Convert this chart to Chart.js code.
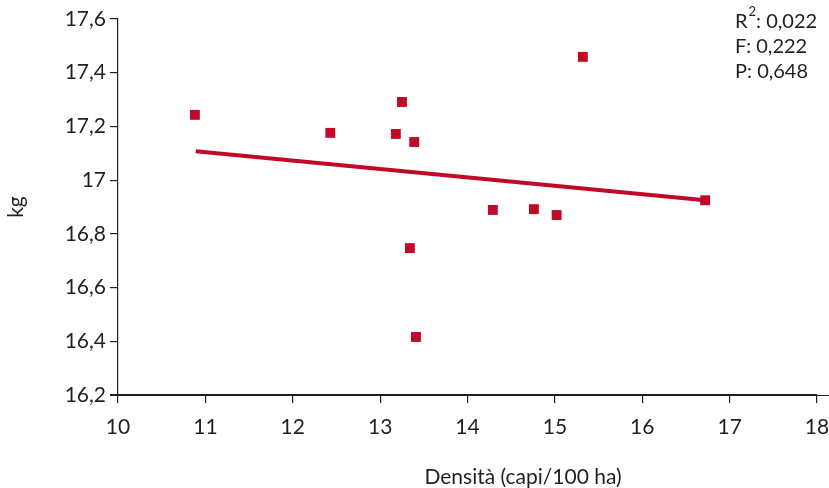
<!DOCTYPE html>
<html>
<head>
<meta charset="utf-8">
<script src="https://cdn.jsdelivr.net/npm/chart.js@4/dist/chart.umd.min.js"></script>
<style>
  html, body { margin: 0; padding: 0; background: #fff; }
  #wrap { width: 829px; height: 488px; }
</style>
</head>
<body>
<div id="wrap"><canvas id="myChart" width="829" height="488"></canvas></div>
<script>
// density (head/100 ha) vs weight (kg)
var densita = [10.88, 12.43, 13.25, 13.18, 13.39, 15.32, 14.29, 14.76, 15.02, 13.34, 13.41, 16.72];
var pesoKg = [17.243, 17.176, 17.291, 17.172, 17.142, 17.459, 16.889, 16.892, 16.870, 16.747, 16.416, 16.925];

// fitted line end points
var lineaX = [10.89, 16.72];
var lineaY = [17.108, 16.925];

var statLabels = ["R", "F: 0,222", "P: 0,648"];
var r2Value = ": 0,022";
var xTitle = "Densità (capi/100 ha)";

var rosso = "#c10a28";
var nero = "#231f20";
var fontName = "Lato, 'Open Sans', sans-serif";

var punti = [];
for (var i = 0; i < densita.length; i++) punti.push({ x: densita[i], y: pesoKg[i] });
var linea = [];
for (var j = 0; j < lineaX.length; j++) linea.push({ x: lineaX[j], y: lineaY[j] });

var statsPlugin = {
  id: "stats",
  afterDraw: function (chart) {
    var ctx = chart.ctx;
    ctx.save();
    ctx.fillStyle = nero;
    ctx.textBaseline = "middle";
    ctx.textAlign = "left";
    ctx.font = "20px " + fontName;
    var x0 = 735;
    ctx.fillText(statLabels[0], x0, 22);
    var w = ctx.measureText(statLabels[0]).width;
    ctx.font = "13px " + fontName;
    ctx.fillText("2", x0 + w + 1, 12);
    var w2 = ctx.measureText("2").width;
    ctx.font = "20px " + fontName;
    ctx.fillText(r2Value, x0 + w + w2 + 1, 22);
    ctx.fillText(statLabels[1], x0, 47);
    ctx.fillText(statLabels[2], x0, 72);

    // x axis title sits right of the plot centre
    ctx.font = "21px " + fontName;
    ctx.textAlign = "center";
    ctx.fillText(xTitle, 523, 477);

    // axis line runs a bit past the corner and to the right edge
    var xs = chart.scales.x;
    ctx.strokeStyle = nero;
    ctx.lineWidth = 1.2;
    ctx.beginPath();
    ctx.moveTo(xs.left - 8, xs.top + 0.5);
    ctx.lineTo(chart.width, xs.top + 0.5);
    ctx.stroke();
    ctx.restore();
  },
};

var ctx = document.getElementById("myChart").getContext("2d");
var myChart = new Chart(ctx, {
  data: {
    datasets: [
      {
        type: "line",
        data: linea,
        borderColor: rosso,
        borderWidth: 4,
        pointRadius: 0,
        fill: false,
        order: 2,
      },
      {
        type: "scatter",
        data: punti,
        pointStyle: "rect",
        pointRadius: 7,
        pointHoverRadius: 7,
        backgroundColor: rosso,
        borderColor: rosso,
        borderWidth: 0,
        order: 1,
      },
    ],
  },
  options: {
    responsive: false,
    animation: false,
    layout: { padding: { top: 19, right: 12, left: 0, bottom: 0 } },
    plugins: {
      legend: { display: false },
      tooltip: { enabled: false },
    },
    scales: {
      x: {
        type: "linear",
        min: 10,
        max: 18,
        ticks: {
          stepSize: 1,
          color: nero,
          font: { family: fontName, size: 21 },
          padding: 12,
        },
        grid: { display: true, drawOnChartArea: false, tickLength: 8, color: nero, lineWidth: 1.2 },
        border: { color: nero, width: 1.2 },
        afterFit: function (scale) {
          scale.height = 93;
          scale.paddingLeft = 0;
          scale.paddingRight = 0;
        },
      },
      y: {
        min: 16.2,
        max: 17.6,
        ticks: {
          stepSize: 0.2,
          color: nero,
          font: { family: fontName, size: 21 },
          padding: 4,
          callback: function (v) {
            return (Math.round(v * 10) / 10).toString().replace(".", ",");
          },
        },
        grid: { display: true, drawOnChartArea: false, tickLength: 8, color: nero, lineWidth: 1.2 },
        border: { color: nero, width: 1.2 },
        title: {
          display: true,
          text: "kg",
          color: nero,
          font: { family: fontName, size: 21 },
          padding: { top: 4, bottom: 0 },
        },
        afterFit: function (scale) {
          scale.width = 118;
          scale.paddingTop = 0;
          scale.paddingBottom = 0;
        },
      },
    },
  },
  plugins: [statsPlugin],
});
</script>
</body>
</html>
